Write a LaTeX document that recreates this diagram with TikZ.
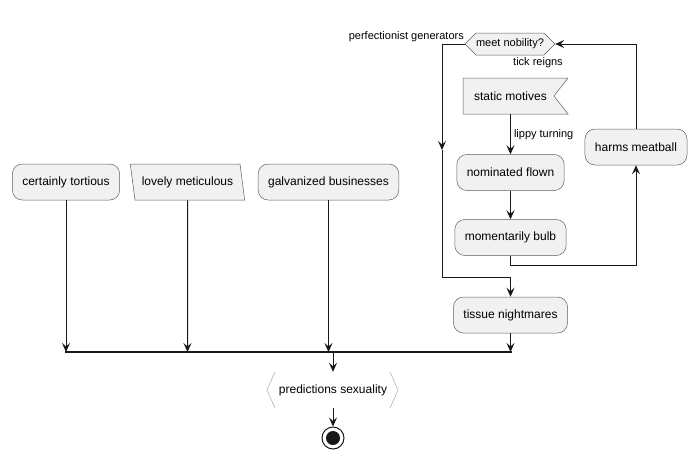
\documentclass[tikz,border=0pt]{standalone}
\usepackage{fontspec}
\setmainfont{Liberation Sans}
\usetikzlibrary{shapes.geometric,positioning,arrows.meta}

\definecolor{boxfill}{HTML}{F1F1F1}
\definecolor{boxline}{HTML}{181818}

\begin{document}
\begin{tikzpicture}[x=1pt, y=-1pt,
  act/.style={draw=boxline!70, fill=boxfill, line width=0.5pt, rounded corners=10pt,
    minimum height=36pt, inner xsep=10pt, inner ysep=0pt, font=\fontsize{12}{14}\selectfont},
  plain/.style={draw=boxline!70, fill=boxfill, line width=0.5pt},
  txt/.style={inner sep=0pt, font=\fontsize{12}{14}\selectfont},
  lbl/.style={font=\fontsize{11}{13}\selectfont},
  flow/.style={draw=boxline, line width=1pt, -{Stealth[length=9pt,width=8pt,inset=3.5pt]}}
]
\useasboundingbox (0,0) rectangle (699,459);

% left branches
\node[act] (certainly_tortious) at (66,182) {certainly tortious};
\node[plain, trapezium, trapezium left angle=110, trapezium right angle=70,
  trapezium stretches=true, minimum width=115pt, minimum height=36pt, inner sep=0pt,
  font=\fontsize{12}{14}\selectfont] (lovely_meticulous) at (187.5,182) {lovely meticulous};
\node[act] (galvanized_businesses) at (328.5,182) {galvanized businesses};

% loop on the right
\draw[plain] (465,44) -- (476,33) -- (544,33) -- (555,44) -- (544,55) -- (476,55) -- cycle;
\node[txt, minimum width=90pt, minimum height=22pt, font=\fontsize{11}{13}\selectfont]
  (meet_nobility) at (510,44) {meet nobility?};
\node[lbl, anchor=east, inner sep=1pt] (perf_gen) at (465,37) {perfectionist generators};
\node[lbl] (tick_reigns) at (538,63) {tick reigns};

\draw[plain] (463,78) -- (568,78) -- (554,96) -- (568,114) -- (463,114) -- cycle;
\node[txt, minimum height=36pt] (static_motives) at (510.5,96) {static motives};
\node[act] (nominated_flown) at (510.5,172.5) {nominated flown};
\node[act] (momentarily_bulb) at (510.5,237.5) {momentarily bulb};
\node[act] (harms_meatball) at (636,147) {harms meatball};
\node[act] (tissue_nightmares) at (510.5,315) {tissue nightmares};

\draw[flow] (static_motives.south) -- node[lbl, right, inner sep=3pt] (lippy_turning) {lippy turning} (nominated_flown.north);
\draw[flow] (nominated_flown) -- (momentarily_bulb);
\draw[flow] (momentarily_bulb.south) -- ++(0,10) -| (harms_meatball.south);
\draw[flow] (harms_meatball.north) |- (meet_nobility.east);

\coordinate (loop_exit) at (442,150);
\draw[flow] (meet_nobility.west) -| (loop_exit);
\draw[flow] (loop_exit) -- (442,277) -| (tissue_nightmares.north);

% join bar
\coordinate (join_a) at (66,352);
\coordinate (join_b) at (187.5,352);
\coordinate (join_c) at (328.5,352);
\coordinate (join_d) at (510.5,352);
\coordinate (join_out) at (333,352);
\draw[boxline, line width=2pt] (65,352) -- (511.5,352);

\draw[flow] (certainly_tortious.south) -- (join_a);
\draw[flow] (lovely_meticulous.south) -- (join_b);
\draw[flow] (galvanized_businesses.south) -- (join_c);
\draw[flow] (tissue_nightmares.south) -- (join_d);

% output and end
\node[txt, minimum width=131pt, minimum height=36pt] (predictions) at (333,390) {predictions sexuality};
\draw[black!35, line width=0.5pt] (275,372) -- (267,390) -- (275,408);
\draw[black!35, line width=0.5pt] (390,372) -- (398,390) -- (390,408);
\node[circle, draw=boxline, line width=1pt, minimum size=22pt, inner sep=0pt] (stop) at (333,438) {};
\fill[boxline] (stop) circle (7);

\draw[flow] (join_out) -- (predictions.north);
\draw[flow] (predictions.south) -- (stop.north);
\end{tikzpicture}
\end{document}
